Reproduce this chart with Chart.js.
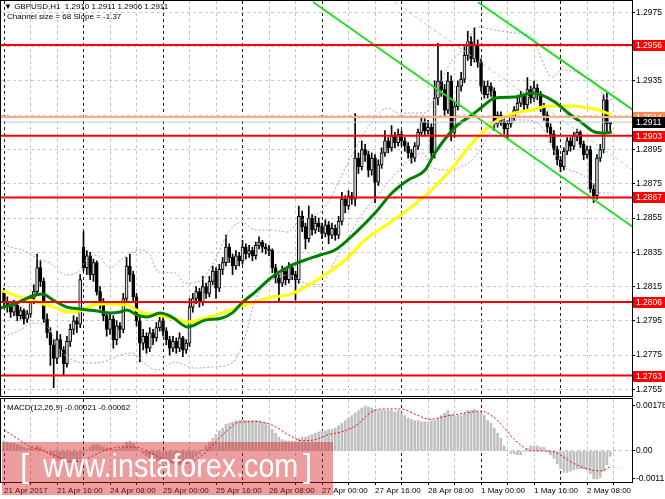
<!DOCTYPE html>
<html><head><meta charset="utf-8">
<script src="https://cdn.jsdelivr.net/npm/chart.js@4.4.1/dist/chart.umd.min.js"></script>
<style>
html,body{margin:0;padding:0;background:#fff;}
body{width:665px;height:499px;position:relative;overflow:hidden;font-family:"Liberation Sans",Arial,sans-serif;}
#box1{position:absolute;left:0;top:0;width:665px;height:398px;}
#box2{position:absolute;left:0;top:397px;width:665px;height:102px;}
.t{position:absolute;font-size:8px;color:#000;white-space:pre;line-height:10px;}
#wm{position:absolute;left:2px;top:442px;width:331px;height:53px;background:rgba(210,30,30,0.43);}
.w{position:absolute;color:#fff;font-size:33px;line-height:33px;white-space:pre;top:449px;}
</style></head><body>
<div id="box1"><canvas id="c1"></canvas></div>
<div id="box2"><canvas id="c2"></canvas></div>
<div class="t" style="left:4px;top:2px">▼ GBPUSD,H1  1.2910 1.2911 1.2906 1.2911</div>
<div class="t" style="left:7px;top:12px">Channel size = 68 Slope = -1.37</div>
<div class="t" style="left:7px;top:403px">MACD(12,26,9) -0.00021 -0.00062</div>
<div id="wm"></div>
<div class="w" style="left:20px;">[</div>
<div class="w" style="left:43px;transform:scaleX(0.87);transform-origin:0 0;">www.instaforex.com</div>
<div class="w" style="left:303px;">]</div>
<script>
// ---- hourly candles, bar index 0 = 21 Apr 2017 00:00 ----
const opens = [
1.2812,1.2806,1.2803,1.2800,1.2804,1.2798,1.2801,1.2796,1.2799,1.2808,
1.2812,1.2826,1.2818,1.2796,1.2788,1.2781,1.2773,1.2784,1.2778,1.2770,
1.2783,1.2790,1.2795,1.2793,1.2838,1.2826,1.2833,1.2822,1.2829,1.2812,
1.2806,1.2798,1.2790,1.2796,1.2784,1.2792,1.2790,1.2808,1.2827,1.2822,
1.2809,1.2795,1.2782,1.2786,1.2779,1.2788,1.2785,1.2791,1.2795,1.2789,
1.2784,1.2779,1.2783,1.2779,1.2785,1.2778,1.2782,1.2803,1.2808,1.2812,
1.2806,1.2815,1.2811,1.2818,1.2824,1.2814,1.2825,1.2829,1.2838,1.2832,
1.2827,1.2833,1.2830,1.2838,1.2834,1.2836,1.2833,1.2839,1.2841,1.2838,
1.2837,1.2836,1.2826,1.2820,1.2817,1.2824,1.2819,1.2826,1.2822,1.2819,
1.2856,1.2850,1.2843,1.2855,1.2848,1.2852,1.2850,1.2846,1.2851,1.2845,
1.2849,1.2845,1.2853,1.2866,1.2862,1.2868,1.2866,1.2890,1.2885,1.2895,
1.2892,1.2883,1.2890,1.2876,1.2886,1.2893,1.2900,1.2896,1.2903,1.2899,
1.2904,1.2900,1.2897,1.2893,1.2890,1.2897,1.2905,1.2911,1.2906,1.2908,
1.2893,1.2925,1.2935,1.2930,1.2918,1.2935,1.2905,1.2920,1.2932,1.2936,
1.2950,1.2958,1.2948,1.2956,1.2946,1.2932,1.2927,1.2932,1.2929,1.2910,
1.2915,1.2911,1.2907,1.2910,1.2914,1.2918,1.2922,1.2926,1.2921,1.2930,
1.2925,1.2931,1.2927,1.2920,1.2915,1.2908,1.2904,1.2895,1.2889,1.2885,
1.2894,1.2900,1.2897,1.2903,1.2905,1.2898,1.2892,1.2895,1.2872,1.2868,
1.2890,1.2895,1.2924,1.2910];
const highs = [
1.2814,1.2809,1.2805,1.2807,1.2805,1.2803,1.2802,1.2801,1.2810,1.2816,
1.2834,1.2830,1.2820,1.2799,1.2791,1.2784,1.2789,1.2787,1.2780,1.2786,
1.2793,1.2798,1.2797,1.2822,1.2847,1.2836,1.2835,1.2831,1.2830,1.2815,
1.2808,1.2800,1.2799,1.2798,1.2795,1.2794,1.2811,1.2832,1.2834,1.2824,
1.2811,1.2797,1.2790,1.2788,1.2791,1.2790,1.2794,1.2798,1.2797,1.2791,
1.2786,1.2786,1.2785,1.2788,1.2786,1.2784,1.2808,1.2811,1.2815,1.2814,
1.2821,1.2817,1.2821,1.2827,1.2826,1.2828,1.2832,1.2845,1.2840,1.2834,
1.2836,1.2835,1.2842,1.2840,1.2839,1.2838,1.2841,1.2844,1.2842,1.2840,
1.2839,1.2837,1.2828,1.2822,1.2827,1.2826,1.2829,1.2828,1.2824,1.2862,
1.2859,1.2852,1.2862,1.2857,1.2856,1.2855,1.2852,1.2854,1.2853,1.2852,
1.2851,1.2856,1.2870,1.2868,1.2871,1.2870,1.2916,1.2893,1.2900,1.2898,
1.2894,1.2893,1.2892,1.2889,1.2896,1.2906,1.2902,1.2909,1.2905,1.2907,
1.2906,1.2902,1.2899,1.2895,1.2899,1.2907,1.2914,1.2913,1.2912,1.2910,
1.2935,1.2957,1.2941,1.2933,1.2940,1.2938,1.2923,1.2935,1.2940,1.2955,
1.2964,1.2961,1.2966,1.2959,1.2948,1.2935,1.2935,1.2934,1.2931,1.2917,
1.2917,1.2913,1.2912,1.2916,1.2920,1.2925,1.2929,1.2928,1.2937,1.2932,
1.2935,1.2933,1.2929,1.2922,1.2917,1.2910,1.2906,1.2897,1.2891,1.2896,
1.2902,1.2902,1.2905,1.2907,1.2906,1.2900,1.2897,1.2897,1.2875,1.2892,
1.2898,1.2927,1.2928,1.2911];
const lows = [
1.2803,1.2800,1.2797,1.2798,1.2795,1.2796,1.2793,1.2794,1.2797,1.2805,
1.2810,1.2815,1.2794,1.2785,1.2769,1.2756,1.2770,1.2774,1.2763,1.2768,
1.2780,1.2787,1.2788,1.2791,1.2824,1.2822,1.2819,1.2818,1.2810,1.2802,
1.2795,1.2786,1.2787,1.2779,1.2781,1.2785,1.2788,1.2806,1.2818,1.2806,
1.2792,1.2771,1.2778,1.2776,1.2777,1.2781,1.2783,1.2789,1.2786,1.2781,
1.2775,1.2777,1.2776,1.2777,1.2774,1.2776,1.2780,1.2800,1.2805,1.2803,
1.2804,1.2808,1.2809,1.2816,1.2808,1.2812,1.2822,1.2827,1.2829,1.2822,
1.2825,1.2827,1.2828,1.2831,1.2832,1.2830,1.2831,1.2837,1.2835,1.2834,
1.2833,1.2823,1.2817,1.2806,1.2815,1.2816,1.2817,1.2819,1.2807,1.2817,
1.2847,1.2837,1.2841,1.2845,1.2846,1.2847,1.2843,1.2844,1.2840,1.2843,
1.2842,1.2843,1.2851,1.2858,1.2860,1.2863,1.2862,1.2881,1.2883,1.2888,
1.2879,1.2880,1.2864,1.2874,1.2884,1.2891,1.2893,1.2894,1.2896,1.2897,
1.2897,1.2894,1.2890,1.2887,1.2888,1.2895,1.2903,1.2903,1.2904,1.2891,
1.2890,1.2921,1.2926,1.2915,1.2916,1.2900,1.2902,1.2918,1.2929,1.2934,
1.2947,1.2944,1.2946,1.2943,1.2929,1.2925,1.2925,1.2926,1.2906,1.2908,
1.2909,1.2904,1.2901,1.2908,1.2912,1.2916,1.2920,1.2918,1.2919,1.2922,
1.2923,1.2924,1.2917,1.2912,1.2905,1.2899,1.2892,1.2886,1.2882,1.2883,
1.2892,1.2894,1.2895,1.2900,1.2896,1.2889,1.2890,1.2870,1.2864,1.2866,
1.2888,1.2893,1.2905,1.2906];
const closes = [
1.2806,1.2803,1.2800,1.2804,1.2798,1.2801,1.2796,1.2799,1.2808,1.2812,
1.2826,1.2818,1.2796,1.2788,1.2781,1.2773,1.2784,1.2778,1.2770,1.2783,
1.2790,1.2795,1.2793,1.2819,1.2826,1.2833,1.2822,1.2829,1.2812,1.2806,
1.2798,1.2790,1.2796,1.2784,1.2792,1.2790,1.2808,1.2827,1.2822,1.2809,
1.2795,1.2782,1.2786,1.2779,1.2788,1.2785,1.2791,1.2795,1.2789,1.2784,
1.2779,1.2783,1.2779,1.2785,1.2778,1.2782,1.2803,1.2808,1.2812,1.2806,
1.2815,1.2811,1.2818,1.2824,1.2814,1.2825,1.2829,1.2838,1.2832,1.2827,
1.2833,1.2830,1.2838,1.2834,1.2836,1.2833,1.2839,1.2841,1.2838,1.2837,
1.2836,1.2826,1.2820,1.2817,1.2824,1.2819,1.2826,1.2822,1.2819,1.2856,
1.2850,1.2843,1.2855,1.2848,1.2852,1.2850,1.2846,1.2851,1.2845,1.2849,
1.2845,1.2853,1.2866,1.2862,1.2868,1.2866,1.2890,1.2885,1.2895,1.2892,
1.2883,1.2890,1.2876,1.2886,1.2893,1.2900,1.2896,1.2903,1.2899,1.2904,
1.2900,1.2897,1.2893,1.2890,1.2897,1.2905,1.2911,1.2906,1.2908,1.2893,
1.2925,1.2935,1.2930,1.2918,1.2935,1.2905,1.2920,1.2932,1.2936,1.2950,
1.2958,1.2948,1.2956,1.2946,1.2932,1.2927,1.2932,1.2929,1.2910,1.2915,
1.2911,1.2907,1.2910,1.2914,1.2918,1.2922,1.2926,1.2921,1.2930,1.2925,
1.2931,1.2927,1.2920,1.2915,1.2908,1.2904,1.2895,1.2889,1.2885,1.2894,
1.2900,1.2897,1.2903,1.2905,1.2898,1.2892,1.2895,1.2872,1.2868,1.2890,
1.2895,1.2924,1.2910,1.2911];

// ---- indicator lines read at sample bars (bar index, price) ----
const greenIdx = [-1.2,3.9,7.8,11.5,14.8,19.0,22.9,28.1,32.0,35.0,37.1,40.2,43.2,47.1,50.7,55.5,60.7,65.8,68.8,71.8,75.8,80.9,85.7,90.9,95.4,99.9,106.0,112.0,117.1,122.0,127.1,130.1,136.2,141.3,144.3,148.2,154.3,159.4,162.4,166.3,170.3,174.5,178.4,181.4,183.5];
const greenVal = [1.28024,1.28054,1.28089,1.28106,1.28071,1.28030,1.28019,1.28007,1.27995,1.28001,1.28013,1.27984,1.27972,1.27995,1.27972,1.27914,1.27954,1.27966,1.27995,1.28054,1.28118,1.28206,1.28264,1.28305,1.28334,1.28363,1.28462,1.28579,1.28696,1.28772,1.28830,1.28930,1.29081,1.29152,1.29198,1.29251,1.29257,1.29280,1.29268,1.29227,1.29163,1.29105,1.29052,1.29046,1.29052];
const yellowIdx = [-1.2,4.8,10.9,16.0,19.0,22.9,25.1,29.0,37.1,41.1,46.2,50.7,55.5,60.7,65.8,70.6,75.8,80.9,85.7,90.9,95.4,102.9,109.0,118.9,128.0,134.0,141.3,144.3,149.1,154.3,159.4,164.2,169.3,174.5,179.3,183.5];
const yellowVal = [1.28130,1.28089,1.28054,1.28024,1.28001,1.28007,1.28030,1.28048,1.28042,1.28001,1.27984,1.27966,1.27943,1.27966,1.27995,1.28030,1.28060,1.28089,1.28100,1.28147,1.28200,1.28305,1.28422,1.28556,1.28696,1.28813,1.28988,1.29046,1.29122,1.29163,1.29181,1.29204,1.29204,1.29198,1.29181,1.29152];
const upperBandIdx = [-1.2,1.8,5.7,10.0,13.9,19.0,22.9,25.4,28.1,32.0,35.9,41.1,44.1,46.5,51.6,54.6,58.6,63.7,67.6,71.8,75.8,80.9,85.7,88.8,93.0,96.9,103.8,109.9,115.9,118.9,127.1,130.1,134.0,138.3,143.1,148.2,154.3,159.4,161.2,163.3,165.4,168.5,172.4,175.4,178.4,181.4,183.8];
const upperBandVal = [1.28410,1.28381,1.28363,1.28316,1.28287,1.28217,1.28246,1.28322,1.28334,1.28258,1.28316,1.28363,1.28334,1.28235,1.28229,1.28170,1.28176,1.28305,1.28462,1.28527,1.28480,1.28480,1.28468,1.28527,1.28556,1.28614,1.28871,1.29081,1.29192,1.29163,1.29163,1.29257,1.29432,1.29531,1.29665,1.29648,1.29630,1.29607,1.29531,1.29432,1.29373,1.29414,1.29403,1.29373,1.29344,1.29257,1.29239];
const lowerBandIdx = [-1.2,4.8,8.8,13.0,16.9,20.8,25.1,29.9,35.0,38.9,42.0,46.2,51.6,57.7,62.8,68.8,72.8,75.8,79.7,85.7,90.9,95.4,99.9,106.9,114.1,120.2,126.2,129.2,134.0,140.1,143.1,147.3,151.2,157.3,162.4,165.4,169.3,173.3,177.5,179.3,183.5];
const lowerBandVal = [1.27849,1.27896,1.27937,1.27914,1.27779,1.27721,1.27703,1.27709,1.27750,1.27762,1.27709,1.27662,1.27709,1.27674,1.27680,1.27703,1.27855,1.28071,1.28170,1.28217,1.28170,1.28160,1.28300,1.28538,1.28714,1.28848,1.28930,1.28848,1.28830,1.28871,1.28930,1.29064,1.29122,1.29122,1.29081,1.28965,1.28848,1.28813,1.28760,1.28696,1.28696];

// channel (bar index, price) end points
const chanUpperIdx = [143.1, 189.9];  const chanUpperVal = [1.2981, 1.29181];
const chanMidIdx   = [118.0, 189.9];  const chanMidVal   = [1.2981, 1.28830];
const chanLowerIdx = [93.3, 189.9];   const chanLowerVal = [1.29811, 1.28497];

// horizontal levels
const levelValues = [1.2956, 1.2903, 1.2867, 1.2806, 1.2763];
const askLevel = 1.2914;
const bidLevel = 1.2911;

// ---- MACD ----
const macdHist = [
0.00040,0.00035,0.00030,0.00030,0.00025,0.00020,0.00015,0.00010,0.00015,0.00010,
0.00020,0.00015,0.00005,-0.00005,-0.00015,-0.00025,-0.00030,-0.00035,-0.00040,-0.00045,
-0.00045,-0.00040,-0.00040,-0.00030,-0.00010,0.00005,0.00015,0.00025,0.00025,0.00020,
0.00015,0.00010,0.00010,0.00005,0.00005,0.00010,0.00020,0.00035,0.00040,0.00030,
0.00015,0.00000,-0.00010,-0.00020,-0.00030,-0.00035,-0.00040,-0.00045,-0.00045,-0.00050,
-0.00050,-0.00050,-0.00055,-0.00055,-0.00055,-0.00050,-0.00040,-0.00030,-0.00020,-0.00010,
0.00005,0.00020,0.00035,0.00050,0.00065,0.00080,0.00090,0.00105,0.00110,0.00115,
0.00120,0.00120,0.00125,0.00120,0.00120,0.00120,0.00120,0.00120,0.00115,0.00110,
0.00100,0.00085,0.00070,0.00055,0.00045,0.00040,0.00040,0.00040,0.00040,0.00050,
0.00055,0.00055,0.00060,0.00065,0.00070,0.00075,0.00080,0.00080,0.00085,0.00085,
0.00090,0.00100,0.00110,0.00120,0.00130,0.00140,0.00150,0.00160,0.00170,0.00178,
0.00175,0.00170,0.00165,0.00160,0.00160,0.00160,0.00160,0.00160,0.00155,0.00160,
0.00150,0.00140,0.00130,0.00125,0.00120,0.00120,0.00115,0.00115,0.00115,0.00120,
0.00120,0.00130,0.00140,0.00150,0.00160,0.00145,0.00140,0.00140,0.00140,0.00150,
0.00160,0.00160,0.00165,0.00155,0.00150,0.00140,0.00120,0.00110,0.00090,0.00070,
0.00050,0.00020,0.00000,-0.00010,-0.00010,-0.00015,-0.00015,0.00000,0.00010,0.00020,
0.00020,0.00020,0.00015,0.00015,-0.00005,-0.00015,-0.00030,-0.00050,-0.00070,-0.00085,
-0.00085,-0.00080,-0.00075,-0.00070,-0.00070,-0.00070,-0.00075,-0.00090,-0.00110,-0.00110,
-0.00105,-0.00080,-0.00055,-0.00021];
const signalIdx = [0,4,7,11,15,20.5,24,27,30,33,36,40,43,47,51,56,58,61,63,67,71,76,81,86,90,94,98,102,106.5,111,114,120,124.7,128.6,132.5,136.7,140.7,143.7,147.6,150.7,153.7,156.7,159,164,167,171,175,180,183];
const signalVal = [0.00083,0.00050,0.00024,0.00004,-0.00016,-0.00043,-0.00036,-0.00018,0.00000,0.00012,0.00016,0.00015,0.00000,-0.00025,-0.00043,-0.00047,-0.00032,-0.00005,0.00024,0.00076,0.00114,0.00116,0.00102,0.00063,0.00040,0.00045,0.00065,0.00076,0.00103,0.00155,0.00166,0.00166,0.00142,0.00125,0.00135,0.00145,0.00153,0.00158,0.00136,0.00096,0.00050,0.00017,0.00000,0.00000,-0.00009,-0.00042,-0.00066,-0.00079,-0.00062];

// ---- axes ----
const priceTicks = [1.2755,1.2775,1.2795,1.2815,1.2835,1.2855,1.2875,1.2895,1.2915,1.2935,1.2955,1.2975];
const macdTicks = [0.00178, 0, -0.0011];
const macdTickLabels = ['0.00178', '0.00', '-0.0011'];
const gridIdx = [0,8,16,24,32,40,48,56,64,72,80,88,96,104,112,120,128,136,144,152,160,168,176,184];
const dayIdx = [0,24,48,72,96,120,144,168];
const timeTickIdx = [0,16,32,48,64,80,96,112,128,144,160,176];
const timeTickLabels = ['21 Apr 2017','21 Apr 16:00','24 Apr 08:00','25 Apr 00:00','25 Apr 16:00','26 Apr 08:00','27 Apr 00:00','27 Apr 16:00','28 Apr 08:00','1 May 00:00','1 May 16:00','2 May 08:00'];

// ---- view ----
const X_MIN = -0.906, X_MAX = 189.58;
const Y_MIN = 1.27511, Y_MAX = 1.29817;
const M_MIN = -0.0012253, M_MAX = 0.0020553;
const FONT = '"Liberation Sans", Arial, sans-serif';
Chart.defaults.font.family = FONT;

const pts = (xs, ys) => xs.map((x, k) => ({x: x, y: ys[k]}));
const gridColor = v => dayIdx.includes(v) ? '#202020' : '#c4c4c4';

const frame = {id: 'frame', afterDraw(chart) {
  const a = chart.chartArea, ctx = chart.ctx;
  ctx.save(); ctx.strokeStyle = '#000'; ctx.lineWidth = 1;
  ctx.strokeRect(Math.round(a.left) - 0.5, Math.round(a.top) - 0.5, Math.round(a.right - a.left) + 1, Math.round(a.bottom - a.top) + 1);
  ctx.restore();
}};

const labelBoxes = [
  {v: levelValues[0], bg: '#ff0000'},
  {v: askLevel, bg: '#ff8a50'},
  {v: bidLevel, bg: '#000000'},
  {v: levelValues[1], bg: '#ff0000'},
  {v: levelValues[2], bg: '#ff0000'},
  {v: levelValues[3], bg: '#ff0000'},
  {v: levelValues[4], bg: '#ff0000'}
];
const priceBoxes = {id: 'priceBoxes', afterDraw(chart) {
  const ys = chart.scales.y, ctx = chart.ctx, a = chart.chartArea;
  ctx.save();
  ctx.font = '8.5px ' + FONT; ctx.textBaseline = 'middle'; ctx.textAlign = 'left';
  labelBoxes.forEach(b => {
    const py = Math.round(ys.getPixelForValue(b.v));
    ctx.fillStyle = b.bg; ctx.fillRect(a.right + 1, py - 5, 32, 11);
    ctx.fillStyle = '#fff'; ctx.fillText(b.v.toFixed(4), a.right + 4, py + 1);
  });
  ctx.restore();
}};

const wickData = closes.map((c, i) => ({x: i, y: [lows[i], highs[i]]}));
const bodyData = closes.map((c, i) => ({x: i, y: [opens[i], closes[i]]}));
const bodyFill = closes.map((c, i) => c >= opens[i] ? '#d2d2d2' : '#000000');

const lineDs = (data, color, width, order, extra) => Object.assign({
  type: 'line', data: data, borderColor: color, borderWidth: width, pointRadius: 0,
  fill: false, order: order, cubicInterpolationMode: 'monotone'
}, extra || {});

const ds1 = [];
levelValues.forEach(v => ds1.push(lineDs(pts([X_MIN - 2, X_MAX + 2], [v, v]), '#ff0000', 2, 1)));
ds1.push(lineDs(pts([X_MIN - 2, X_MAX + 2], [askLevel, askLevel]), '#ffab85', 2, 2));
ds1.push(lineDs(pts([X_MIN - 2, X_MAX + 2], [bidLevel, bidLevel]), '#c8c8c8', 1, 2));
ds1.push(lineDs(pts(chanUpperIdx, chanUpperVal), '#22dd22', 2, 3));
ds1.push(lineDs(pts(chanLowerIdx, chanLowerVal), '#22dd22', 2, 3));
ds1.push(lineDs(pts(chanMidIdx, chanMidVal), '#77ee77', 1, 3, {borderDash: [3, 3]}));
ds1.push(lineDs(pts(greenIdx, greenVal), '#008000', 3, 4));
ds1.push(lineDs(pts(yellowIdx, yellowVal), '#ffff00', 3, 5));
ds1.push(lineDs(pts(upperBandIdx, upperBandVal), '#c88ae8', 1, 6, {borderDash: [2, 2]}));
ds1.push(lineDs(pts(lowerBandIdx, lowerBandVal), '#c88ae8', 1, 6, {borderDash: [2, 2]}));
ds1.push({type: 'bar', data: bodyData, backgroundColor: bodyFill, borderColor: '#000', borderWidth: 1,
  borderSkipped: false, barThickness: 3, minBarLength: 1, grouped: false, order: 7});
ds1.push({type: 'bar', data: wickData, backgroundColor: '#000', borderWidth: 0,
  barThickness: 1, grouped: false, order: 8});

new Chart(document.getElementById('c1'), {
  type: 'bar',
  data: {datasets: ds1},
  options: {
    responsive: true, maintainAspectRatio: false, animation: false,
    layout: {padding: {left: 1, top: 1, right: 0, bottom: 2}},
    plugins: {legend: {display: false}, tooltip: {enabled: false}},
    scales: {
      x: {type: 'linear', min: X_MIN, max: X_MAX, offset: false,
        grid: {offset: false, color: c => gridColor(c.tick.value), drawTicks: false},
        border: {display: false, dash: [3, 3]},
        ticks: {display: false},
        afterBuildTicks: s => { s.ticks = gridIdx.map(v => ({value: v})); },
        afterFit: s => { s.height = 0; s.paddingLeft = 0; s.paddingRight = 0; }},
      y: {type: 'linear', position: 'right', min: Y_MIN, max: Y_MAX,
        grid: {color: '#c8c8c8', tickColor: '#000', tickLength: 3},
        border: {display: false, dash: [3, 3]},
        ticks: {color: '#000', font: {size: 8.5}, padding: 1, callback: v => Number(v).toFixed(4)},
        afterBuildTicks: s => { s.ticks = priceTicks.map(v => ({value: v})); },
        afterFit: s => { s.width = 33; s.paddingTop = 0; s.paddingBottom = 0; }}
    }
  },
  plugins: [frame, priceBoxes]
});

new Chart(document.getElementById('c2'), {
  type: 'bar',
  data: {datasets: [
    lineDs(pts(signalIdx, signalVal), '#ff0000', 1, 1, {borderDash: [2, 2]}),
    {type: 'bar', data: macdHist.map((v, i) => ({x: i, y: v})), backgroundColor: '#c0c0c0',
      borderWidth: 0, barThickness: 2, grouped: false, order: 2}
  ]},
  options: {
    responsive: true, maintainAspectRatio: false, animation: false,
    layout: {padding: {left: 1, top: 2, right: 0, bottom: 0}},
    plugins: {legend: {display: false}, tooltip: {enabled: false}},
    scales: {
      x: {type: 'linear', min: X_MIN, max: X_MAX, offset: false,
        grid: {offset: false, color: c => gridColor(c.tick.value), tickColor: '#000', tickLength: 3},
        border: {display: false, dash: [3, 3]},
        ticks: {color: '#000', font: {size: 8}, padding: 1, autoSkip: false, maxRotation: 0, minRotation: 0, align: 'start',
          callback: v => { const k = timeTickIdx.indexOf(v); return k >= 0 ? timeTickLabels[k] : ''; }},
        afterBuildTicks: s => { s.ticks = gridIdx.map(v => ({value: v})); },
        afterFit: s => { s.height = 17; s.paddingLeft = 0; s.paddingRight = 0; }},
      y: {type: 'linear', position: 'right', min: M_MIN, max: M_MAX,
        grid: {color: c => c.tick.value === 0 ? '#c0c0c0' : 'rgba(0,0,0,0)', tickColor: '#000', tickLength: 3},
        border: {display: false, dash: [3, 3]},
        ticks: {color: '#000', font: {size: 8.5}, padding: 1,
          callback: v => { const k = macdTicks.indexOf(v); return k >= 0 ? macdTickLabels[k] : ''; }},
        afterBuildTicks: s => { s.ticks = macdTicks.map(v => ({value: v})); },
        afterFit: s => { s.width = 33; s.paddingTop = 0; s.paddingBottom = 0; }}
    }
  },
  plugins: [frame]
});
</script>
</body></html>
